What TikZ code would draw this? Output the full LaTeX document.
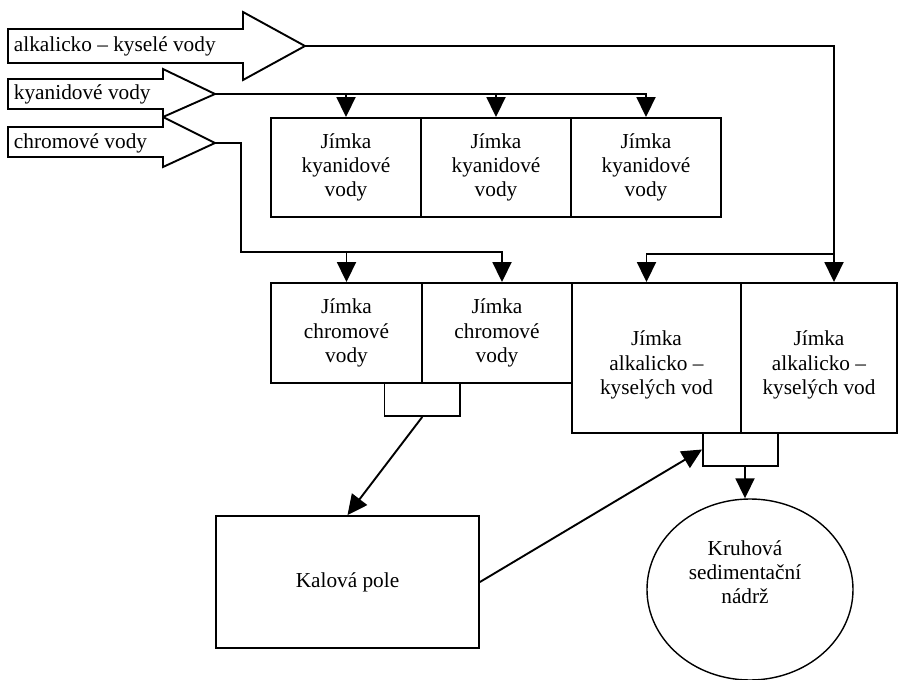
\documentclass[tikz,border=0pt]{standalone}
\usepackage{fontspec}
\setmainfont{Liberation Serif}
\usetikzlibrary{arrows.meta,shapes.geometric}
\begin{document}
\begin{tikzpicture}[x=1pt,y=-1pt,
  line width=1.9pt,
  txt/.style={font=\fontsize{21.3}{24.3}\selectfont, align=center, inner sep=0pt},
  tank/.style={draw, txt, minimum width=#1, inner sep=0pt},
  tank/.default=150pt,
  arr/.style={-{Triangle[length=20pt,width=19pt]}},
  inflow/.style={draw, line join=miter}
]
\useasboundingbox (0,0) rectangle (898,680);

% incoming streams (block arrows)
\draw[inflow] (8,29) -- (243,29) -- (243,12) -- (305,46) -- (243,80) -- (243,63) -- (8,63) -- cycle;
\draw[inflow] (8,79) -- (163,79) -- (163,69) -- (215,94) -- (163,117) -- (163,109) -- (8,109) -- cycle;
\draw[inflow] (8,127) -- (163,127) -- (163,117) -- (215,143) -- (163,167) -- (163,157) -- (8,157) -- cycle;
\coordinate (t1) at (305,46);
\coordinate (t2) at (215,94);
\coordinate (t3) at (215,143);
\node[txt, anchor=west] (lab1) at (13,46) {alkalicko – kyselé vody};
\node[txt, anchor=west] (lab2) at (13,94) {kyanidové vody};
\node[txt, anchor=west] (lab3) at (13,143) {chromové vody};

% cyanide tanks
\node[tank, minimum height=99pt] (k1) at (346,167.5) {Jímka\\kyanidové\\vody};
\node[tank, minimum height=99pt] (k2) at (496,167.5) {Jímka\\kyanidové\\vody};
\node[tank, minimum height=99pt] (k3) at (646,167.5) {Jímka\\kyanidové\\vody};

% chromium tanks
\node[tank=151pt, minimum height=100pt] (c1) at (346.5,333) {Jímka\\chromové\\vody};
\node[tank=150pt, minimum height=100pt] (c2) at (497,333) {Jímka\\chromové\\vody};

% alkaline-acid tanks (text sits a little below the middle)
\node[tank=169pt, minimum height=150pt] (a1) at (656.5,358) {};
\node[txt] (a1t) at (656.5,365) {Jímka\\alkalicko –\\kyselých vod};
\node[tank=156pt, minimum height=150pt] (a2) at (819,358) {};
\node[txt] (a2t) at (819,365) {Jímka\\alkalicko –\\kyselých vod};

% small outlet boxes
\node[draw, minimum width=75.5pt, minimum height=33pt, inner sep=0pt] (sc) at (422.25,399.5) {};
\node[draw, minimum width=75pt, minimum height=33pt, inner sep=0pt] (sa) at (740.5,449.5) {};

% sludge field and settling tank
\node[tank=263pt, minimum height=132pt] (kal) at (347.5,582) {Kalová pole};
\node[draw, ellipse, line width=1.4pt, minimum width=206pt, minimum height=181pt, inner sep=0pt] (sed) at (750,589.5) {};
\node[txt] (sedlab) at (745,572) {Kruhová\\sedimentační\\nádrž};

% cyanide distribution
\draw[arr] (t2) -| (k3.north);
\draw[arr] (k1.north |- t2) -- (k1.north);
\draw[arr] (k2.north |- t2) -- (k2.north);

% chromium distribution
\coordinate (cj1) at (240.7,143);
\coordinate (cj2) at (240.7,252);
\draw[arr] (t3) -- (cj1) -- (cj2) -| ([xshift=5pt]c2.north);
\draw[arr] (c1.north |- cj2) -- (c1.north);

% alkaline-acid distribution
\coordinate (aj) at (834,254);
\draw (t1) -| (aj);
\draw[arr] (aj) -- (aj |- a2.north);
\draw[arr] (aj) -| ([xshift=-10pt]a1.north);

% sludge and outflow
\draw[arr] (sc.south) -- (kal.north);
\draw[arr] (kal.east) -- (sa.west);
\draw[arr] ([xshift=4.5pt]sa.south) -- ([xshift=4.5pt]sa.south |- sed.north);
\end{tikzpicture}
\end{document}
